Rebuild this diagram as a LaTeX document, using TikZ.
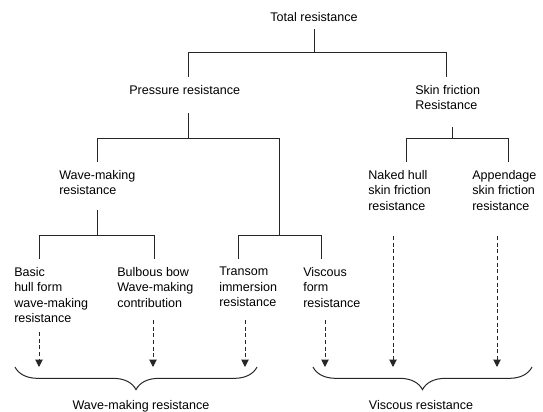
\documentclass[tikz,border=0pt]{standalone}
\usepackage{fontspec}
\setmainfont{Liberation Sans}
\usepackage{tikz}
\usepackage{xcolor}
\usetikzlibrary{arrows.meta,calc,decorations.pathreplacing}

\begin{document}
\begin{tikzpicture}[x=0.75pt,y=-0.75pt,
    font=\fontsize{9.4pt}{11.55pt}\selectfont,
    lbl/.style={inner sep=0pt,anchor=north west,align=left},
    tree/.style={draw=black!85,line width=0.75pt},
    dasharrow/.style={draw=black!85,line width=0.75pt,dash pattern=on 3pt off 2pt,
        -{Triangle[length=5.5pt,width=5.5pt]}},
    sumbrace/.style={draw=black!85,line width=0.75pt,decorate,
        decoration={brace,mirror,amplitude=17pt}}]
  \useasboundingbox (0,0) rectangle (543,411);

  % labels of the tree
  \node[inner sep=0pt,anchor=north] (total) at (314,11.7) {Total resistance};
  \node[lbl] (pressure) at (129,85) {Pressure resistance};
  \node[lbl] (skin) at (415,85) {Skin friction\\Resistance};
  \node[lbl] (wavemk) at (59,170) {Wave-making\\resistance};
  \node[lbl] (naked) at (368,170) {Naked hull\\skin friction\\resistance};
  \node[lbl] (append) at (472,170) {Appendage\\skin friction\\resistance};
  \node[lbl] (basic) at (14,267) {Basic\\hull form\\wave-making\\resistance};
  \node[lbl] (bulb) at (117,267) {Bulbous bow\\Wave-making\\contribution};
  \node[lbl] (transom) at (219,267) {Transom\\immersion\\resistance};
  \node[lbl] (viscous) at (303,267) {Viscous\\form\\resistance};

  % brace ends
  \coordinate (wbl) at (15,367);
  \coordinate (wbr) at (257,367);
  \coordinate (vbl) at (313,367);
  \coordinate (vbr) at (532,367);

  % solid branches
  \draw[tree] ($(total.north)+(0,17.3)$) -- ++(0,23) coordinate (tj)
      -| ($(pressure.north west)+(59,-8)$);
  \draw[tree] (tj) -| ($(skin.north west)+(31,-8)$);

  \draw[tree] ($(pressure.north west)+(59,28)$) -- ++(0,25) coordinate (pj)
      -| ($(wavemk.north west)+(38,-8)$);
  \draw[tree] (pj) -| ++(91,97) coordinate (rj)
      -| ($(transom.north west)+(19,-8)$);
  \draw[tree] (rj) -| ($(viscous.north west)+(18,-8)$);

  \draw[tree] ($(wavemk.north west)+(38,40)$) -- ++(0,25) coordinate (wj)
      -| ($(basic.north west)+(25,-8)$);
  \draw[tree] (wj) -| ($(bulb.north west)+(37,-8)$);

  \draw[tree] ($(skin.north west)+(37,42)$) -- ++(0,11) coordinate (sj)
      -| ($(naked.north west)+(38,-8)$);
  \draw[tree] (sj) -| ($(append.north west)+(36,-8)$);

  % dashed arrows into the braces
  \draw[dasharrow] ($(basic.north west)+(25,65)$) coordinate (d1) -- (d1 |- wbl);
  \draw[dasharrow] ($(bulb.north west)+(36,53)$) coordinate (d2) -- (d2 |- wbl);
  \draw[dasharrow] ($(transom.north west)+(26,53)$) coordinate (d3) -- (d3 |- wbl);
  \draw[dasharrow] ($(viscous.north west)+(22,53)$) coordinate (d4) -- (d4 |- vbl);
  \draw[dasharrow] ($(naked.north west)+(25,66)$) coordinate (d5) -- (d5 |- vbl);
  \draw[dasharrow] ($(append.north west)+(25,66)$) coordinate (d6) -- (d6 |- vbl);

  % sums
  \draw[sumbrace] (wbl) -- (wbr);
  \draw[sumbrace] (vbl) -- (vbr);
  \node[inner sep=0pt,anchor=north] (wavesum) at (141,400) {Wave-making resistance};
  \node[inner sep=0pt,anchor=north] (viscsum) at (421,400) {Viscous resistance};
\end{tikzpicture}
\end{document}
